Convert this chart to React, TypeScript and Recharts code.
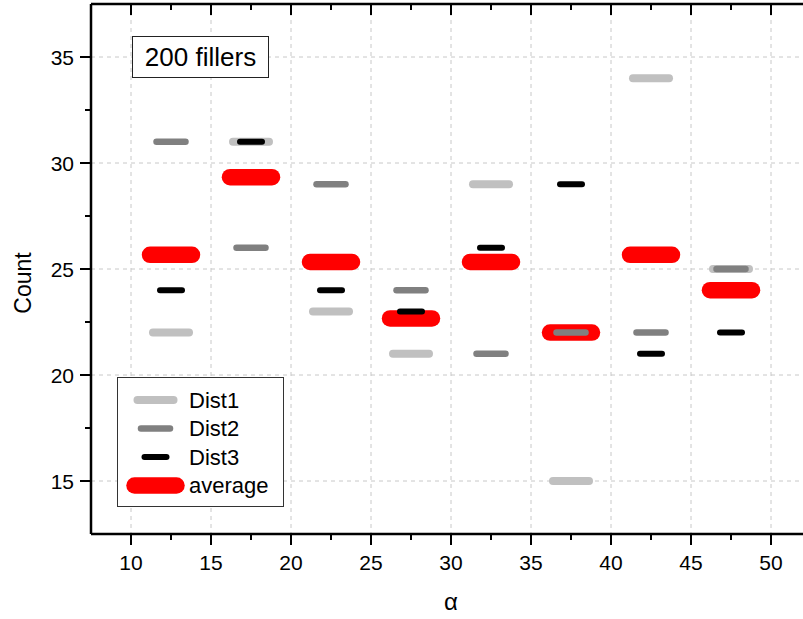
import React from "react";
import {
  ScatterChart,
  Scatter,
  XAxis,
  YAxis,
  CartesianGrid,
  Legend,
} from "recharts";

const ALPHA = [12.5, 17.5, 22.5, 27.5, 32.5, 37.5, 42.5, 47.5];
const DIST1 = [22, 31, 23, 21, 29, 15, 34, 25];
const DIST2 = [31, 26, 29, 24, 21, 22, 22, 25];
const DIST3 = [24, 31, 24, 23, 26, 29, 21, 22];
const AVERAGE = [25.67, 29.33, 25.33, 22.67, 25.33, 22, 25.67, 24];

const X_MAJOR = [10, 15, 20, 25, 30, 35, 40, 45, 50];
const X_TICKS = [10, 12.5, 15, 17.5, 20, 22.5, 25, 27.5, 30, 32.5, 35, 37.5, 40, 42.5, 45, 47.5, 50];
const Y_MAJOR = [15, 20, 25, 30, 35];
const Y_TICKS = [15, 17.5, 20, 22.5, 25, 27.5, 30, 32.5, 35];

const FONT = '"Liberation Sans", Arial, sans-serif';

const toRows = (ys: number[]) => ALPHA.map((x, i) => ({ x, y: ys[i] }));

// legend order
const SERIES = [
  { name: "Dist1", data: DIST1, color: "#c0c0c0", len: 36, w: 8 },
  { name: "Dist2", data: DIST2, color: "#808080", len: 29, w: 6.5 },
  { name: "Dist3", data: DIST3, color: "#000000", len: 22, w: 6 },
  { name: "average", data: AVERAGE, color: "#ff0000", len: 42, w: 16.5 },
];
// drawing order: average at the back
const DRAW = [SERIES[3], SERIES[0], SERIES[1], SERIES[2]];

const dash = (len: number, w: number, color: string) => (p: any) => (
  <line
    x1={p.cx - len / 2}
    x2={p.cx + len / 2}
    y1={p.cy}
    y2={p.cy}
    stroke={color}
    strokeWidth={w}
    strokeLinecap="round"
  />
);

const makeTick = (side: "bottom" | "top" | "left" | "right", major: number[]) => (p: any) => {
  const { x, y, payload } = p;
  const isMajor = major.includes(payload.value);
  const len = isMajor ? 11 : 6;
  if (side === "bottom") {
    return (
      <g>
        <line x1={x} x2={x} y1={y} y2={y + len} stroke="#000" strokeWidth={2} />
        {isMajor && (
          <text x={x} y={y + 36} textAnchor="middle" fontSize={21} fontFamily={FONT} fill="#000">
            {payload.value}
          </text>
        )}
      </g>
    );
  }
  if (side === "top") {
    return <line x1={x} x2={x} y1={y} y2={y + len} stroke="#000" strokeWidth={2} />;
  }
  if (side === "left") {
    return (
      <g>
        <line x1={x - len} x2={x} y1={y} y2={y} stroke="#000" strokeWidth={2} />
        {isMajor && (
          <text x={x - 17} y={y + 8} textAnchor="end" fontSize={21} fontFamily={FONT} fill="#000">
            {payload.value}
          </text>
        )}
      </g>
    );
  }
  return <line x1={x - len} x2={x} y1={y} y2={y} stroke="#000" strokeWidth={2} />;
};

const renderLegend = () => (
  <svg width={167} height={130} style={{ display: "block" }}>
    <rect x={0.5} y={0.5} width={166} height={129} fill="#fff" stroke="#333" strokeWidth={1} />
    {SERIES.map((s, i) => {
      const cy = 23 + i * 28.5;
      return (
        <g key={s.name}>
          <line
            x1={38.5 - s.len / 2}
            x2={38.5 + s.len / 2}
            y1={cy}
            y2={cy}
            stroke={s.color}
            strokeWidth={s.w}
            strokeLinecap="round"
          />
          <text x={72} y={cy} dominantBaseline="central" fontSize={22} fontFamily={FONT} fill="#000">
            {s.name}
          </text>
        </g>
      );
    })}
  </svg>
);

export default function App() {
  const axisLine = { stroke: "#000", strokeWidth: 2.5 };
  return (
    <div style={{ position: "absolute", left: 0, top: 0, width: 803, height: 619, overflow: "hidden", background: "#fff" }}>
      <ScatterChart width={811} height={619} margin={{ top: 3, right: 0, bottom: 0, left: 0 }}>
        <XAxis
          xAxisId="t"
          dataKey="x"
          type="number"
          orientation="top"
          domain={[7.5, 52.5]}
          ticks={X_TICKS}
          interval={0}
          height={1}
          tickSize={0}
          tickMargin={0}
          tickLine={false}
          axisLine={axisLine}
          tick={makeTick("top", X_MAJOR)}
          allowDataOverflow
        />
        <XAxis
          xAxisId="b"
          dataKey="x"
          type="number"
          orientation="bottom"
          domain={[7.5, 52.5]}
          ticks={X_TICKS}
          interval={0}
          height={85}
          tickSize={0}
          tickMargin={0}
          tickLine={false}
          axisLine={axisLine}
          tick={makeTick("bottom", X_MAJOR)}
          allowDataOverflow
          label={{
            content: () => (
              <text x={451} y={610} textAnchor="middle" fontSize={24} fontFamily={FONT} fill="#000">
                α
              </text>
            ),
          }}
        />
        <YAxis
          yAxisId="l"
          dataKey="y"
          type="number"
          orientation="left"
          domain={[12.5, 37.5]}
          ticks={Y_TICKS}
          interval={0}
          width={91}
          tickSize={0}
          tickMargin={0}
          tickLine={false}
          axisLine={axisLine}
          tick={makeTick("left", Y_MAJOR)}
          allowDataOverflow
          label={{
            content: () => (
              <text
                x={23}
                y={283}
                transform="rotate(-90 23 283)"
                textAnchor="middle"
                dominantBaseline="central"
                fontSize={23}
                fontFamily={FONT}
                fill="#000"
              >
                Count
              </text>
            ),
          }}
        />
        <YAxis
          yAxisId="r"
          dataKey="y"
          type="number"
          orientation="right"
          domain={[12.5, 37.5]}
          ticks={Y_TICKS}
          interval={0}
          width={0}
          tickSize={0}
          tickMargin={0}
          tickLine={false}
          axisLine={axisLine}
          tick={makeTick("right", Y_MAJOR)}
          allowDataOverflow
        />
        {/* hidden axes carrying only the major ticks, for the grid */}
        <XAxis xAxisId="g" dataKey="x" type="number" domain={[7.5, 52.5]} ticks={X_MAJOR} height={0} hide allowDataOverflow />
        <YAxis yAxisId="g" dataKey="y" type="number" domain={[12.5, 37.5]} ticks={Y_MAJOR} width={0} hide allowDataOverflow />
        <CartesianGrid xAxisId="g" yAxisId="g" stroke="#c8c8c8" strokeDasharray="4 4" />
        {DRAW.map((s) => (
          <Scatter
            key={s.name}
            name={s.name}
            xAxisId="b"
            yAxisId="l"
            data={toRows(s.data)}
            fill={s.color}
            shape={dash(s.len, s.w, s.color)}
            isAnimationActive={false}
          />
        ))}
        <Legend
          layout="vertical"
          align="center"
          verticalAlign="middle"
          content={renderLegend}
          wrapperStyle={{ position: "absolute", left: 117, top: 377, width: 167, height: 130 }}
        />
      </ScatterChart>
      <div
        style={{
          position: "absolute",
          left: 132,
          top: 36,
          width: 137,
          height: 42,
          boxSizing: "border-box",
          border: "1px solid #222",
          background: "#fff",
          display: "flex",
          alignItems: "center",
          justifyContent: "center",
          fontFamily: FONT,
          fontSize: 26,
          color: "#000",
        }}
      >
        200 fillers
      </div>
    </div>
  );
}
